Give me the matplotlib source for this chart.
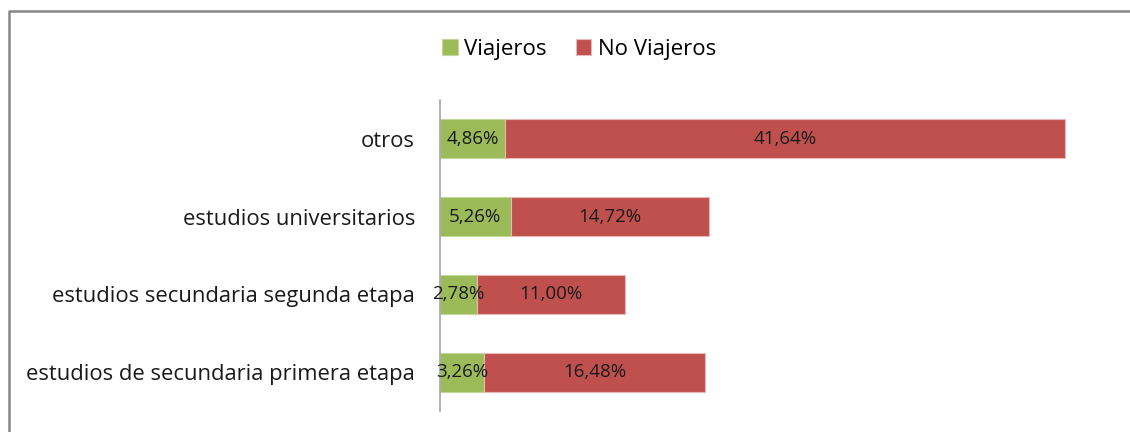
import matplotlib.pyplot as plt
from matplotlib.lines import Line2D

# data
categories = ["estudios de secundaria primera etapa",
              "estudios secundaria segunda etapa",
              "estudios universitarios",
              "otros"]
viajeros = [3.26, 2.78, 5.26, 4.86]
no_viajeros = [16.48, 11.00, 14.72, 41.64]

green = "#9BBB59"
red = "#C0504D"

plt.rcParams['font.family'] = ['Open Sans', 'DejaVu Sans']

fig = plt.figure(figsize=(11.3, 4.32), dpi=100)
ax = fig.add_axes([440 / 1130, 21 / 432, 672 / 1130, 311 / 432])

y = range(len(categories))
b1 = ax.barh(y, viajeros, height=0.5, color=green, edgecolor="#c3d69b",
             linewidth=0.8, label="Viajeros")
b2 = ax.barh(y, no_viajeros, left=viajeros, height=0.5, color=red,
             edgecolor="#e6b9b8", linewidth=0.8, label="No Viajeros")

for bars, vals in [(b1, viajeros), (b2, no_viajeros)]:
    labels = [f"{v:.2f}%".replace(".", ",") for v in vals]
    ax.bar_label(bars, labels=labels, label_type="center", fontsize=13.5,
                 color="#1a1a1a")

ax.set_xlim(0, 50)
ax.set_ylim(-0.5, len(categories) - 0.5)
ax.set_yticks(list(y))
ax.set_yticklabels(categories, fontsize=15.8, color="#1a1a1a")
ax.tick_params(axis="y", length=0, pad=18)
ax.set_xticks([])
for s in ["top", "right", "bottom"]:
    ax.spines[s].set_visible(False)
ax.spines["left"].set_color("#a6a6a6")
ax.spines["left"].set_linewidth(1.2)

fig.legend(handles=[b1, b2], loc="center", bbox_to_anchor=(579 / 1130, 1 - 49 / 432),
           ncol=2, frameon=False, fontsize=16, handlelength=0.7, handleheight=0.7,
           handletextpad=0.3, columnspacing=1.3)

# outer frame (left and top edges visible)
fig.add_artist(Line2D([9 / 1130, 9 / 1130, 1.0], [0.0, 1 - 11 / 432, 1 - 11 / 432],
                      transform=fig.transFigure, color="#878787", linewidth=1.8))

fig.savefig("out.png", dpi=100)
